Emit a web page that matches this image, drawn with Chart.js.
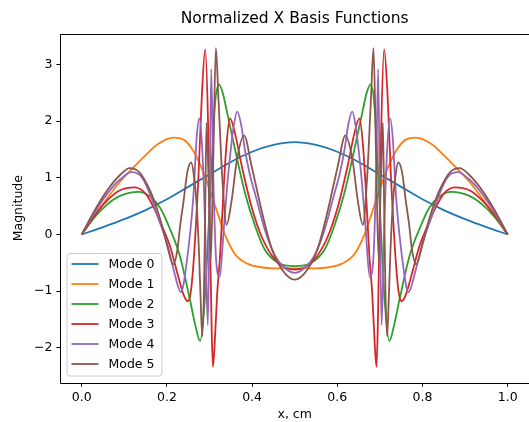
<!DOCTYPE html>
<html>
<head>
<meta charset="utf-8">
<script src="https://cdn.jsdelivr.net/npm/chart.js@4"></script>
<style>
  html, body { margin: 0; padding: 0; background: #fff; }
  #wrap { width: 529px; height: 422px; }
</style>
</head>
<body>
<div id="wrap"><canvas id="chart" width="529" height="422"></canvas></div>
<script>
// values
const modeLabels = ['Mode 0', 'Mode 1', 'Mode 2', 'Mode 3', 'Mode 4', 'Mode 5'];
const xTicks = [0, 0.2, 0.4, 0.6, 0.8, 1.0];
const yTicks = [-2, -1, 0, 1, 2, 3];

const mode0X = [0, 0.05, 0.1, 0.15, 0.2, 0.25, 0.3, 0.35, 0.4, 0.45, 0.5, 0.55, 0.6, 0.65, 0.7, 0.75, 0.8, 0.85, 0.9, 0.95, 1];
const mode0Y = [0, 0.13, 0.27, 0.43, 0.62, 0.84, 1.06, 1.28, 1.46, 1.58, 1.63, 1.58, 1.46, 1.28, 1.06, 0.84, 0.62, 0.43, 0.27, 0.13, 0];

const mode1X = [0, 0.03, 0.06, 0.09, 0.12, 0.15, 0.18, 0.215, 0.24, 0.26, 0.28, 0.3, 0.32, 0.336, 0.36, 0.39, 0.42, 0.45, 0.5,
  0.55, 0.58, 0.61, 0.64, 0.664, 0.68, 0.7, 0.72, 0.74, 0.76, 0.785, 0.82, 0.85, 0.88, 0.91, 0.94, 0.97, 1];
const mode1Y = [0, 0.33, 0.64, 0.93, 1.17, 1.4, 1.6, 1.71, 1.67, 1.5, 1.2, 0.8, 0.35, 0.0, -0.35, -0.52, -0.58, -0.6, -0.6,
  -0.6, -0.58, -0.52, -0.35, 0.0, 0.35, 0.8, 1.2, 1.5, 1.67, 1.71, 1.6, 1.4, 1.17, 0.93, 0.64, 0.33, 0];

const mode2X = [0, 0.03, 0.06, 0.09, 0.133, 0.16, 0.184, 0.207, 0.23, 0.254, 0.266, 0.278, 0.289, 0.301, 0.313, 0.322, 0.331, 0.34, 0.36, 0.383, 0.407, 0.43, 0.461, 0.5,
  0.539, 0.57, 0.593, 0.617, 0.64, 0.66, 0.669, 0.678, 0.687, 0.699, 0.711, 0.722, 0.734, 0.746, 0.77, 0.793, 0.816, 0.84, 0.867, 0.91, 0.94, 0.97, 1];
const mode2Y = [0, 0.3, 0.53, 0.68, 0.75, 0.67, 0.47, 0.1, -0.37, -1.15, -1.58, -1.88, -1.15, 0.6, 2.3, 2.65, 2.5, 2.2, 1.5, 0.74, 0.15, -0.27, -0.5, -0.56,
  -0.5, -0.27, 0.15, 0.74, 1.5, 2.2, 2.5, 2.65, 2.3, 0.6, -1.15, -1.88, -1.58, -1.15, -0.37, 0.1, 0.47, 0.67, 0.75, 0.68, 0.53, 0.3, 0];

const mode3X = [0, 0.03, 0.06, 0.09, 0.124, 0.15, 0.17, 0.19, 0.207, 0.225, 0.24, 0.249, 0.256, 0.262, 0.268, 0.274, 0.282, 0.29, 0.297, 0.301, 0.305, 0.308, 0.312, 0.318, 0.325, 0.332, 0.34, 0.348, 0.36, 0.376, 0.399, 0.423, 0.454, 0.475, 0.5,
  0.525, 0.546, 0.577, 0.601, 0.624, 0.64, 0.652, 0.66, 0.668, 0.675, 0.682, 0.688, 0.692, 0.695, 0.699, 0.703, 0.71, 0.718, 0.726, 0.732, 0.738, 0.744, 0.751, 0.76, 0.775, 0.793, 0.81, 0.83, 0.85, 0.876, 0.91, 0.94, 0.97, 1];
const mode3Y = [0, 0.33, 0.6, 0.78, 0.83, 0.72, 0.46, 0.12, -0.2, -0.7, -1.08, -1.18, -1.02, -0.55, 0.15, 1.0, 2.45, 3.27, 1.85, 0.05, -1.65, -2.34, -1.95, -1.05, -0.35, 0.65, 1.6, 2.05, 1.78, 1.2, 0.48, -0.05, -0.45, -0.58, -0.62,
  -0.58, -0.45, -0.05, 0.48, 1.2, 1.78, 2.05, 1.6, 0.65, -0.35, -1.05, -1.95, -2.34, -1.65, 0.05, 1.85, 3.27, 2.45, 1.0, 0.15, -0.55, -1.02, -1.18, -1.08, -0.7, -0.2, 0.12, 0.46, 0.72, 0.83, 0.78, 0.6, 0.33, 0];

const mode4X = [0, 0.03, 0.06, 0.09, 0.117, 0.14, 0.16, 0.18, 0.2, 0.215, 0.233, 0.246, 0.262, 0.27, 0.276, 0.283, 0.29, 0.296, 0.3, 0.304, 0.309, 0.316, 0.324, 0.333, 0.342, 0.35, 0.357, 0.365, 0.374, 0.383, 0.395, 0.407, 0.43, 0.454, 0.475, 0.5,
  0.525, 0.546, 0.57, 0.593, 0.605, 0.617, 0.626, 0.635, 0.643, 0.65, 0.658, 0.667, 0.676, 0.684, 0.691, 0.696, 0.7, 0.704, 0.71, 0.717, 0.724, 0.73, 0.738, 0.754, 0.767, 0.785, 0.8, 0.82, 0.84, 0.86, 0.883, 0.91, 0.94, 0.97, 1];
const mode4Y = [0, 0.38, 0.72, 0.97, 1.1, 1.02, 0.72, 0.28, -0.15, -0.6, -1.02, -0.52, 0.66, 1.72, 2.05, 1.5, 0.08, -1.6, 0.3, 2.92, 1.0, -0.5, -0.75, 0.05, 0.9, 1.5, 1.92, 2.17, 1.95, 1.5, 1.05, 0.72, 0.08, -0.38, -0.58, -0.68,
  -0.58, -0.38, 0.08, 0.72, 1.05, 1.5, 1.95, 2.17, 1.92, 1.5, 0.9, 0.05, -0.75, -0.5, 1.0, 2.92, 0.3, -1.6, 0.08, 1.5, 2.05, 1.72, 0.66, -0.52, -1.02, -0.6, -0.15, 0.28, 0.72, 1.02, 1.1, 0.97, 0.72, 0.38, 0];

const mode5X = [0, 0.03, 0.06, 0.09, 0.113, 0.135, 0.155, 0.17, 0.185, 0.2, 0.215, 0.225, 0.231, 0.239, 0.248, 0.257, 0.264, 0.27, 0.275, 0.279, 0.283, 0.287, 0.29, 0.293, 0.298, 0.303, 0.309, 0.315, 0.321, 0.33, 0.34, 0.352, 0.364, 0.381, 0.399, 0.423, 0.446, 0.47, 0.5,
  0.53, 0.554, 0.577, 0.601, 0.619, 0.636, 0.648, 0.66, 0.67, 0.679, 0.685, 0.691, 0.697, 0.702, 0.707, 0.71, 0.713, 0.717, 0.721, 0.725, 0.73, 0.736, 0.743, 0.752, 0.761, 0.769, 0.775, 0.785, 0.8, 0.815, 0.83, 0.845, 0.865, 0.887, 0.91, 0.94, 0.97, 1];
const mode5Y = [0, 0.42, 0.78, 1.05, 1.17, 1.1, 0.86, 0.6, 0.25, -0.18, -0.53, -0.25, 0.15, 0.58, 1.1, 1.27, 1.0, 0.5, -0.25, -1.1, -1.8, -1.0, 0.5, 1.97, 0.9, -0.45, 1.4, 3.29, 2.4, 1.0, 0.17, 0.6, 1.3, 1.75, 1.2, 0.4, -0.25, -0.62, -0.8,
  -0.62, -0.25, 0.4, 1.2, 1.75, 1.3, 0.6, 0.17, 1.0, 2.4, 3.29, 1.4, -0.45, 0.9, 1.97, 0.5, -1.0, -1.8, -1.1, -0.25, 0.5, 1.0, 1.27, 1.1, 0.58, 0.15, -0.25, -0.53, -0.18, 0.25, 0.6, 0.86, 1.1, 1.17, 1.05, 0.78, 0.42, 0];

const modeColors = ['#1f77b4', '#ff7f0e', '#2ca02c', '#d62728', '#9467bd', '#8c564b'];
const chartTitle = 'Normalized X Basis Functions';

const modesX = [mode0X, mode1X, mode2X, mode3X, mode4X, mode5X];
const modesY = [mode0Y, mode1Y, mode2Y, mode3Y, mode4Y, mode5Y];

const FONT = "'DejaVu Sans', sans-serif";
Chart.defaults.font.family = FONT;
Chart.defaults.color = '#000';

const datasets = modeLabels.map((label, i) => ({
  label: label,
  data: modesX[i].map((x, j) => ({ x: x, y: modesY[i][j] })),
  borderColor: modeColors[i],
  borderWidth: 1.8,
  pointRadius: 0,
  fill: false,
  cubicInterpolationMode: 'monotone',
  order: modeLabels.length - i, // last mode on top, like matplotlib
}));

// spines (the right one falls on the canvas edge) and the title over the plot area
const framePlugin = {
  id: 'frame',
  afterDatasetsDraw(chart) {
    const { ctx, chartArea: a } = chart;
    const l = Math.round(a.left) + 0.5, t = Math.round(a.top) + 0.5, b = Math.round(a.bottom) + 0.5;
    ctx.save();
    ctx.strokeStyle = '#000';
    ctx.lineWidth = 1;
    ctx.beginPath();
    ctx.moveTo(a.right, t);
    ctx.lineTo(l, t);
    ctx.lineTo(l, b);
    ctx.lineTo(a.right, b);
    ctx.stroke();
    ctx.font = '15.5px ' + FONT;
    ctx.fillStyle = '#000';
    ctx.textAlign = 'center';
    ctx.textBaseline = 'middle';
    ctx.fillText(chartTitle, (a.left + a.right) / 2, 18.5);
    ctx.restore();
  }
};

// legend box in the lower left corner
const legendPlugin = {
  id: 'boxLegend',
  afterDraw(chart) {
    const { ctx } = chart;
    const bx = 67, by = 253.5, bw = 95, bh = 122.5, r = 3;
    ctx.save();
    ctx.beginPath();
    ctx.moveTo(bx + r, by);
    ctx.arcTo(bx + bw, by, bx + bw, by + bh, r);
    ctx.arcTo(bx + bw, by + bh, bx, by + bh, r);
    ctx.arcTo(bx, by + bh, bx, by, r);
    ctx.arcTo(bx, by, bx + bw, by, r);
    ctx.closePath();
    ctx.fillStyle = 'rgba(255,255,255,0.8)';
    ctx.fill();
    ctx.strokeStyle = '#cccccc';
    ctx.lineWidth = 1;
    ctx.stroke();
    ctx.font = '12.5px ' + FONT;
    ctx.textBaseline = 'middle';
    ctx.textAlign = 'left';
    chart.data.datasets.forEach((ds, i) => {
      const y = 264 + i * 20;
      ctx.beginPath();
      ctx.moveTo(71.5, y);
      ctx.lineTo(98.5, y);
      ctx.strokeStyle = ds.borderColor;
      ctx.lineWidth = 1.8;
      ctx.stroke();
      ctx.fillStyle = '#000';
      ctx.fillText(ds.label, 108.5, y + 0.5);
    });
    ctx.restore();
  }
};

new Chart(document.getElementById('chart'), {
  type: 'line',
  data: { datasets: datasets },
  options: {
    responsive: false,
    animation: false,
    events: [],
    layout: { padding: { left: 0, right: 0, top: 33.6, bottom: 0 } },
    plugins: {
      legend: { display: false },
      tooltip: { enabled: false },
      title: { display: false }
    },
    scales: {
      x: {
        type: 'linear',
        min: -0.05,
        max: 1.05,
        afterBuildTicks: s => { s.ticks = xTicks.map(v => ({ value: v })); },
        afterFit: s => { s.height = 39.3; },
        grid: { drawOnChartArea: false, drawTicks: true, tickLength: 4, tickColor: '#000', tickWidth: 1 },
        border: { display: false },
        ticks: { font: { size: 12.5 }, color: '#000', padding: 3.5, maxRotation: 0, autoSkip: false,
          callback: v => v.toFixed(1) },
        title: { display: true, text: 'x, cm', color: '#000', font: { size: 12.5 }, padding: { top: 0, bottom: 0 } }
      },
      y: {
        type: 'linear',
        min: -2.619,
        max: 3.547,
        afterBuildTicks: s => { s.ticks = yTicks.map(v => ({ value: v })); },
        afterFit: s => { s.width = 60.4; },
        grid: { drawOnChartArea: false, drawTicks: true, tickLength: 4, tickColor: '#000', tickWidth: 1 },
        border: { display: false },
        ticks: { font: { size: 12.5 }, color: '#000', padding: 4, autoSkip: false,
          callback: v => (v < 0 ? '\u2212' + Math.abs(v) : String(v)) },
        title: { display: true, text: 'Magnitude', color: '#000', font: { size: 12.5 }, padding: { top: 11.5, bottom: 0 } }
      }
    }
  },
  plugins: [framePlugin, legendPlugin]
});
</script>
</body>
</html>
